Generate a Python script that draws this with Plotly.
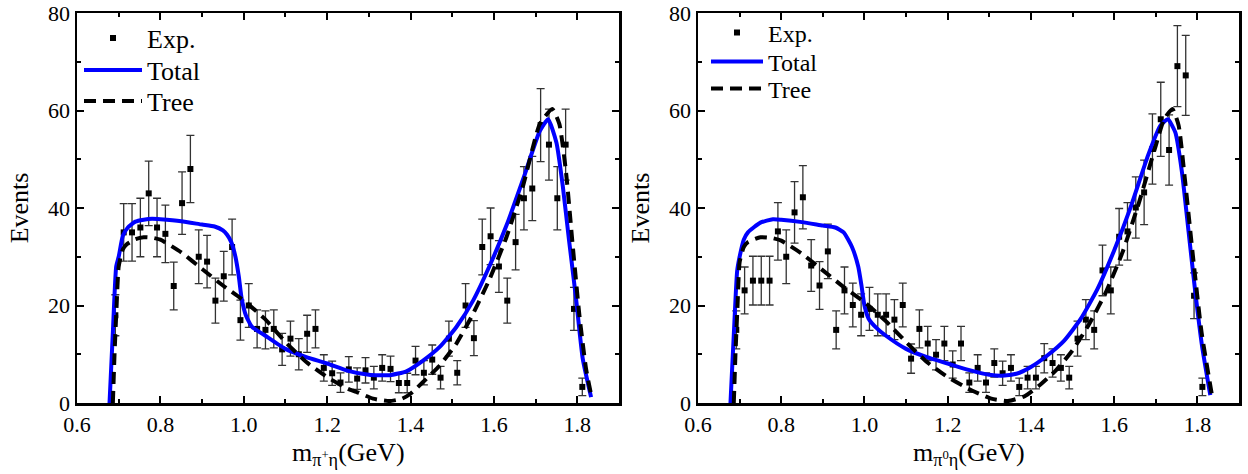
import plotly.graph_objects as go

# ---------------- data: left panel (pi+ eta) ----------------
x_bins = [0.692, 0.712, 0.732, 0.752, 0.772, 0.792, 0.812, 0.832, 0.852, 0.872,
          0.892, 0.912, 0.932, 0.952, 0.972, 0.992, 1.012, 1.032, 1.052, 1.072,
          1.092, 1.112, 1.132, 1.152, 1.172, 1.192, 1.212, 1.232, 1.252, 1.272,
          1.292, 1.312, 1.332, 1.352, 1.372, 1.392, 1.412, 1.432, 1.452, 1.472,
          1.492, 1.512, 1.532, 1.552, 1.572, 1.592, 1.612, 1.632, 1.652, 1.672,
          1.692, 1.712, 1.732, 1.752, 1.772, 1.792, 1.812]

exp_left = [18, 35, 35, 36, 43, 36, 34.7, 24, 41, 48,
            30, 29, 21, 26, 32, 17, 20, 15.2, 15, 15.2,
            11, 13.2, 10, 14.2, 15.2, 7.2, 6.1, 4.2, 6.9, 5,
            6.7, 5.2, 7.2, 7, 4.1, 4.1, 8.7, 6.2, 8.9, 5.2,
            13.2, 6.2, 20, 13.3, 32, 34.2, 28, 21, 33, 42,
            44, 57, 53, 42, 53, 19.3, 3.3]
err_left = [4.2, 5.9, 5.9, 6.0, 6.6, 6.0, 5.9, 4.9, 6.4, 6.9,
            5.5, 5.4, 4.6, 5.1, 5.7, 4.1, 4.5, 3.9, 3.9, 3.9,
            3.3, 3.6, 3.2, 3.8, 3.9, 2.7, 2.5, 2.0, 2.6, 2.2,
            2.6, 2.3, 2.7, 2.6, 2.0, 2.0, 2.9, 2.5, 3.0, 2.3,
            3.6, 2.5, 4.5, 3.6, 5.7, 5.8, 5.3, 4.6, 5.7, 6.5,
            6.6, 7.5, 7.3, 6.5, 7.3, 4.4, 1.8]

total_left_x = [0.678, 0.686, 0.694, 0.700, 0.710, 0.722, 0.740, 0.760, 0.780, 0.800,
                0.850, 0.900, 0.930, 0.950, 0.960, 0.970, 0.980, 0.988, 0.995, 1.005,
                1.020, 1.050, 1.100, 1.150, 1.200, 1.250, 1.300, 1.350, 1.390, 1.430,
                1.470, 1.510, 1.550, 1.590, 1.630, 1.670, 1.710, 1.730, 1.750, 1.765,
                1.780, 1.797, 1.813, 1.833]
total_left_y = [0, 14.5, 28, 30, 34.3, 36, 37.2, 37.6, 37.8, 37.7,
                37.3, 36.6, 36.2, 35.4, 34.5, 33, 30, 26, 21.4, 18,
                15.6, 13.9, 11.1, 9.4, 8.1, 6.6, 5.8, 5.7, 6.5, 8.7,
                11.5, 15.6, 21, 28.2, 36.4, 45.9, 55.8, 58.2, 53.4, 44.6,
                33.5, 21.4, 9.1, 1.2]

tree_left_x = [0.686, 0.690, 0.695, 0.700, 0.710, 0.720, 0.740, 0.760, 0.780, 0.800,
               0.850, 0.900, 0.950, 1.000, 1.050, 1.100, 1.150, 1.200, 1.250, 1.270,
               1.310, 1.350, 1.380, 1.400, 1.430, 1.470, 1.510, 1.550, 1.590, 1.630,
               1.670, 1.710, 1.740, 1.757, 1.773, 1.789, 1.805, 1.821, 1.835]
tree_left_y = [0, 10, 20, 28, 31.5, 32.6, 33.6, 34, 33.9, 33.5,
               30.9, 27.5, 24.1, 21, 17.3, 12.5, 8.4, 5.3, 2.9, 2.3,
               0.9, 0.4, 0.9, 1.9, 4.3, 7.7, 12.2, 18.3, 25.5, 34,
               44.6, 57.2, 60.3, 57.2, 47.3, 32.3, 18, 7, 0.9]

# ---------------- data: right panel (pi0 eta) ----------------
exp_right = [15.0, 23.1, 25.1, 25.1, 25.1, 35.2, 30.0, 39.1, 42.2, 28.2,
             24.1, 31.1, 15.0, 23.1, 20.1, 18.1, 19.3, 18.1, 18.1, 17.1,
             20.1, 9.1, 15.2, 12.2, 9.9, 12.2, 7.9, 12.2, 4.2, 7.2,
             4.2, 8.2, 6.1, 7.2, 3.3, 5.2, 5.2, 9.2, 8.2, 7.2,
             5.2, 13.2, 17.1, 15.0, 27.2, 23.1, 34.1, 35.2, 40.1, 43.2,
             52.1, 58.2, 51.9, 69.1, 67.2, 22.0, 3.3]
err_right = [3.9, 4.8, 5.0, 5.0, 5.0, 5.9, 5.5, 6.3, 6.5, 5.3,
             4.9, 5.6, 3.9, 4.8, 4.5, 4.3, 4.4, 4.3, 4.3, 4.1,
             4.5, 3.0, 3.9, 3.5, 3.1, 3.5, 2.8, 3.5, 2.0, 2.7,
             2.0, 2.9, 2.5, 2.7, 1.8, 2.3, 2.3, 3.0, 2.9, 2.7,
             2.3, 3.6, 4.1, 3.9, 5.2, 4.8, 5.8, 5.9, 6.3, 6.6,
             7.2, 7.6, 7.2, 8.3, 8.2, 4.7, 1.8]

total_right_x = [0.678, 0.686, 0.694, 0.700, 0.710, 0.720, 0.750, 0.780, 0.800, 0.850,
                 0.900, 0.930, 0.950, 0.970, 0.985, 0.993, 1.000, 1.010, 1.030, 1.050,
                 1.100, 1.150, 1.200, 1.250, 1.300, 1.330, 1.365, 1.400, 1.440, 1.480,
                 1.520, 1.560, 1.600, 1.641, 1.681, 1.711, 1.729, 1.747, 1.763, 1.779,
                 1.795, 1.811, 1.831]
total_right_y = [0, 14, 27, 30, 33.5, 35, 37, 37.7, 37.6, 37.1,
                 36.4, 36, 35, 32, 28, 24, 20, 17.3, 15.3, 13.9,
                 11.1, 9.4, 8.1, 6.8, 5.8, 5.6, 6, 7.4, 9.8, 12.8,
                 17.3, 23.4, 31.3, 40.5, 50.7, 56.9, 58.2, 55.5, 47.3, 35,
                 22.7, 11.8, 1.6]

tree_right_x = [0.686, 0.690, 0.695, 0.700, 0.710, 0.720, 0.750, 0.780, 0.800, 0.850,
                0.900, 0.950, 1.000, 1.050, 1.100, 1.150, 1.200, 1.250, 1.265, 1.305,
                1.345, 1.385, 1.420, 1.460, 1.500, 1.540, 1.580, 1.620, 1.660, 1.700,
                1.720, 1.740, 1.755, 1.770, 1.790, 1.810, 1.835]
tree_right_y = [0, 10, 20, 28.9, 32, 33, 34, 33.8, 33.3, 30.6,
                27.2, 23.8, 20.7, 16.9, 12.5, 8.4, 5.3, 2.9, 2.3, 0.9,
                0.4, 1.4, 3.6, 6.7, 10.8, 16.2, 22.7, 30.9, 41.2, 52.8,
                58.2, 60.3, 56.9, 45.9, 29.6, 14.5, 1.6]

x_tick_vals = [0.6, 0.8, 1.0, 1.2, 1.4, 1.6, 1.8]
x_tick_text = ["0.6", "0.8", "1.0", "1.2", "1.4", "1.6", "1.8"]
y_tick_vals = [0, 20, 40, 60, 80]
x_titles = ["m<sub>π<sup>+</sup>η</sub>(GeV)", "m<sub>π<sup>0</sup>η</sub>(GeV)"]

FONT = "Liberation Serif, DejaVu Serif, serif"
BLUE = "#0000ff"
W, H = 1248, 474


def px_x(p):
    return p / W


def px_y(p):
    return 1 - p / H


fig = go.Figure()


def add_panel(xa, ya, legs, exp_y, exp_err, tx, ty, trx, try_):
    fig.add_trace(go.Scatter(
        x=x_bins, y=exp_y, mode="markers", name="Exp.",
        xaxis=xa, yaxis=ya, legend=legs[0],
        marker=dict(symbol="square", size=6, color="black"),
        error_y=dict(type="data", array=exp_err, visible=True,
                     color="#333333", thickness=1.3, width=4),
    ))
    fig.add_trace(go.Scatter(
        x=tx, y=ty, mode="lines", name="Total",
        xaxis=xa, yaxis=ya, legend=legs[1],
        line=dict(color=BLUE, width=4, shape="spline", smoothing=0.5),
    ))
    fig.add_trace(go.Scatter(
        x=trx, y=try_, mode="lines", name="Tree",
        xaxis=xa, yaxis=ya, legend=legs[2],
        line=dict(color="black", width=4, dash="12px,7px",
                  shape="spline", smoothing=0.5),
    ))


add_panel("x", "y", ["legend", "legend2", "legend3"], exp_left, err_left,
          total_left_x, total_left_y, tree_left_x, tree_left_y)
add_panel("x2", "y2", ["legend4", "legend5", "legend6"], exp_right, err_right,
          total_right_x, total_right_y, tree_right_x, tree_right_y)

ydom = [px_y(403), px_y(13)]
xdom1 = [px_x(77), px_x(619)]
xdom2 = [px_x(698), px_x(1239)]

common_x = dict(
    range=[0.6, 1.9], tickmode="array", tickvals=x_tick_vals, ticktext=x_tick_text,
    showline=True, linecolor="black", linewidth=2.5, mirror="allticks",
    ticks="inside", ticklen=7, tickwidth=2, tickcolor="black",
    minor=dict(ticks="inside", ticklen=4, tickwidth=2, tickcolor="black", dtick=0.1, tick0=0.6),
    showgrid=False, zeroline=False, automargin=False, ticklabeloverflow="allow",
    tickfont=dict(family=FONT, size=22, color="black"),
)
common_y = dict(
    range=[0, 80], tickmode="array", tickvals=y_tick_vals,
    showline=True, linecolor="black", linewidth=2.5, mirror="allticks",
    ticks="inside", ticklen=7, tickwidth=2, tickcolor="black",
    minor=dict(ticks="inside", ticklen=4, tickwidth=2, tickcolor="black", dtick=10, tick0=0),
    showgrid=False, zeroline=False, automargin=False, ticklabeloverflow="allow",
    tickfont=dict(family=FONT, size=22, color="black"),
)


def leg(xpx, ypx, size, iw):
    return dict(x=px_x(xpx), y=px_y(ypx), xanchor="left", yanchor="middle",
                bgcolor="rgba(0,0,0,0)", borderwidth=0, itemwidth=iw,
                font=dict(family=FONT, size=size, color="black"))


title_font = dict(family=FONT, size=26, color="black")

fig.update_layout(
    width=W, height=H,
    margin=dict(l=0, r=0, t=0, b=0, autoexpand=False),
    paper_bgcolor="white", plot_bgcolor="white",
    xaxis=dict(domain=xdom1, anchor="y", **common_x),
    yaxis=dict(domain=ydom, anchor="x",
               title=dict(text="Events", font=title_font, standoff=12),
               **common_y),
    xaxis2=dict(domain=xdom2, anchor="y2", **common_x),
    yaxis2=dict(domain=ydom, anchor="x2",
                title=dict(text="Events", font=title_font, standoff=12),
                **common_y),
    legend=leg(79, 38, 26, 58),
    legend2=leg(79, 70, 26, 58),
    legend3=leg(79, 101, 26, 58),
    legend4=leg(706, 33, 24, 52),
    legend5=leg(706, 62, 24, 52),
    legend6=leg(706, 89, 24, 52),
    showlegend=True,
    hovermode=False,
)

for xd, txt in zip([xdom1, xdom2], x_titles):
    fig.add_annotation(text=txt, xref="paper", yref="paper",
                       x=(xd[0] + xd[1]) / 2, y=px_y(472), xanchor="center",
                       yanchor="bottom", showarrow=False, font=title_font)

# remove the browser's default 8px body margin so the figure fills the window exactly
fig.write_html("out.html",
               config={"displayModeBar": False, "staticPlot": True},
               post_script="document.body.style.margin='0';document.body.style.overflow='hidden';")
